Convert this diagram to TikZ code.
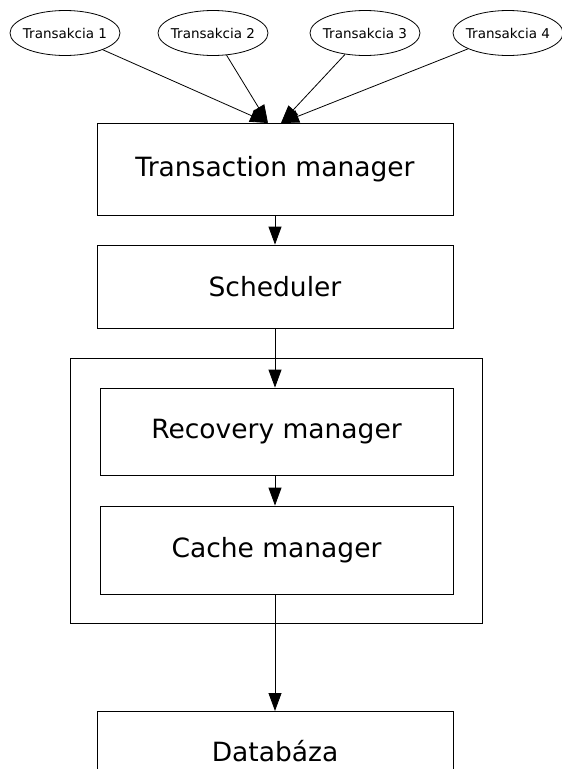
\documentclass[tikz,border=0pt]{standalone}
\usepackage{fontspec}
\setmainfont{DejaVu Sans}
\usetikzlibrary{shapes.geometric,arrows.meta}
\begin{document}
\begin{tikzpicture}[x=1pt,y=-1pt,
  line width=0.8pt,
  tr/.style={draw,ellipse,minimum width=110pt,minimum height=45pt,inner xsep=-4.5pt,inner ysep=0pt,font=\fontsize{13.5}{15}\selectfont},
  blk/.style={draw,rectangle,inner sep=0pt,font=\fontsize{26.5}{30}\selectfont},
  arr/.style={-{Triangle[length=18pt,width=13pt]}}]
\useasboundingbox (0,0) rectangle (562,769);
\node[tr] (t1) at (65,33) {Transakcia 1};
\node[tr] (t2) at (213,33) {Transakcia 2};
\node[tr] (t3) at (365,33) {Transakcia 3};
\node[tr] (t4) at (508,33) {Transakcia 4};
\node[blk,minimum width=356pt,minimum height=92pt] (tm) at (275,169) {Transaction manager};
\node[blk,minimum width=356pt,minimum height=83pt] (sch) at (275,286.5) {Scheduler};
\node[draw,rectangle,minimum width=412pt,minimum height=265pt,inner sep=0pt] (cl) at (276.5,491) {};
\node[blk,minimum width=353pt,minimum height=87pt] (rec) at (276.5,431.5) {Recovery manager};
\node[blk,minimum width=353pt,minimum height=88pt] (cac) at (276.5,550) {Cache manager};
\node[blk,minimum width=356pt,minimum height=80pt,anchor=north] (db) at (275,711) {Databáza};
\coordinate (p1) at (268,123);
\coordinate (p2) at (281,123);
\draw[arr] (t1) -- (p1);
\draw[arr] (t2) -- (p1);
\draw[arr] (t3) -- (p2);
\draw[arr] (t4) -- (p2);
\draw[arr] (tm.south) -- (sch.north);
\draw[arr] (sch.south) -- (sch.south |- rec.north);
\draw[arr] (rec.south -| sch.south) -- (sch.south |- cac.north);
\draw[arr] (cac.south -| sch.south) -- (db.north);
\end{tikzpicture}
\end{document}
